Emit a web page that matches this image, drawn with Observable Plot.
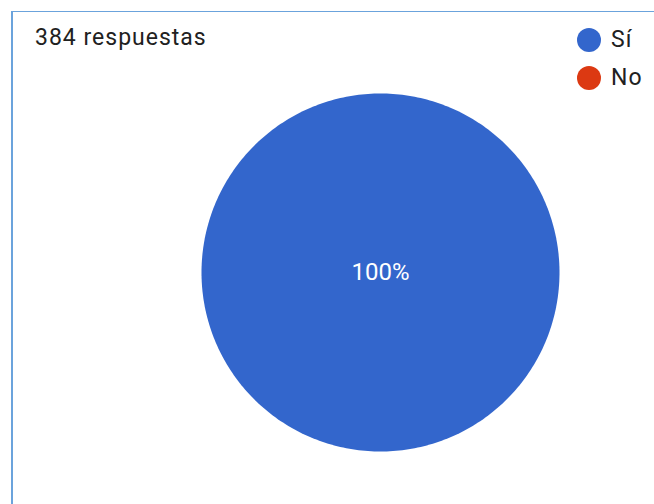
<!DOCTYPE html>
<html>
<head>
<meta charset="utf-8">
<script src="https://cdn.jsdelivr.net/npm/d3@7"></script>
<script src="https://cdn.jsdelivr.net/npm/@observablehq/plot@0.6"></script>
<style>
  html, body { margin: 0; padding: 0; background: #fff; }
  #wrap { position: relative; width: 654px; height: 504px; overflow: hidden; font-family: Roboto, "Noto Sans", sans-serif; }
  #frame { position: absolute; left: 11px; top: 11px; right: -10px; bottom: -10px;
           border-left: 2px solid #6ba3dc; border-top: 1px solid #6ba3dc; }
  #title { position: absolute; left: 35px; top: 26px; font-size: 23px; line-height: 23px; letter-spacing: 1px; color: #212121; white-space: nowrap; }
  #legend { position: absolute; left: 577px; top: 27px; }
  .row { position: absolute; left: 0; height: 25px; display: flex; align-items: center; white-space: nowrap; }
  .sw { width: 24px; height: 24px; border-radius: 50%; display: inline-block; }
  .lab { margin-left: 10px; font-size: 23px; letter-spacing: 1px; color: #212121; line-height: 25px; }
  #pie { position: absolute; left: 201px; top: 93px; }
</style>
</head>
<body>
<div id="wrap">
  <div id="frame"></div>
  <div id="title"></div>
  <div id="legend"></div>
  <div id="pie"></div>
</div>
<script>
const titleText = "384 respuestas";
const categories = ["Sí", "No"];
const values = [384, 0];
const colors = ["#3366cc", "#dc3912"];

document.getElementById("title").textContent = titleText;

const total = d3.sum(values);
const arcs = d3.pie().sort(null)(values);

const slicePts = [];
const labels = [];
arcs.forEach((a, i) => {
  const span = a.endAngle - a.startAngle;
  if (span <= 0) return;
  const cat = categories[i];
  const full = span >= 2 * Math.PI - 1e-9;
  const n = Math.max(2, Math.ceil(span / (Math.PI / 180)));
  if (!full) slicePts.push({cat, x: 0, y: 0});
  for (let k = 0; k <= n; k++) {
    const t = a.startAngle + span * k / n;
    slicePts.push({cat, x: Math.sin(t), y: Math.cos(t)});
  }
  if (!full) slicePts.push({cat, x: 0, y: 0});
  const mid = (a.startAngle + a.endAngle) / 2;
  const rr = full ? 0 : 0.6;
  labels.push({x: rr * Math.sin(mid), y: rr * Math.cos(mid), text: d3.format(".0%")(a.value / total)});
});

const size = 358;
const plot = Plot.plot({
  width: size,
  height: size,
  margin: 0,
  x: {domain: [-1, 1], axis: null},
  y: {domain: [-1, 1], axis: null},
  color: {domain: categories, range: colors},
  style: {background: "transparent", overflow: "visible"},
  marks: [
    Plot.line(slicePts, {x: "x", y: "y", z: "cat", fill: "cat", stroke: "none", curve: "linear"}),
    Plot.text(labels, {x: "x", y: "y", text: "text", fill: "white", fontSize: 24, fontFamily: "Roboto, sans-serif"})
  ]
});
document.getElementById("pie").appendChild(plot);

const colorScale = plot.scale("color");
const legend = document.getElementById("legend");
colorScale.domain.forEach((c, i) => {
  const row = document.createElement("div");
  row.className = "row";
  row.style.top = (i * 38) + "px";
  const sw = document.createElement("span");
  sw.className = "sw";
  sw.style.background = colorScale.range[i];
  const lab = document.createElement("span");
  lab.className = "lab";
  lab.textContent = c;
  row.appendChild(sw);
  row.appendChild(lab);
  legend.appendChild(row);
});
</script>
</body>
</html>
